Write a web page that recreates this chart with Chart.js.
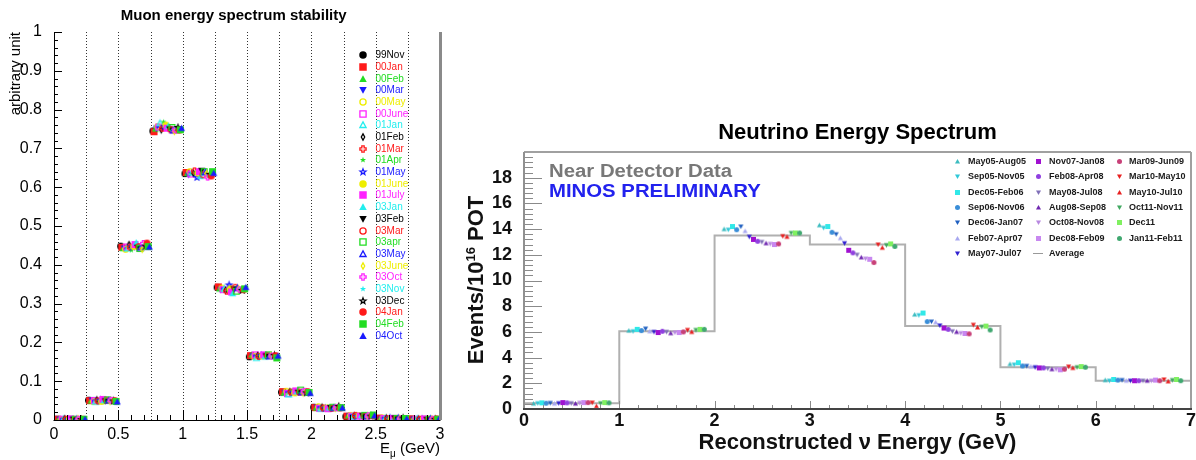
<!DOCTYPE html>
<html><head><meta charset="utf-8">
<script src="https://cdn.jsdelivr.net/npm/chart.js@4.4.1/dist/chart.umd.min.js"></script>
<style>
html,body{margin:0;padding:0;background:#fff;}
body{position:relative;width:1196px;height:460px;overflow:hidden;font-family:"Liberation Sans",Arial,Helvetica,sans-serif;}
canvas.chart{position:absolute;top:0;}
.t{position:absolute;white-space:nowrap;line-height:1;}
.rot{transform-origin:0 0;transform:rotate(-90deg);}
</style></head><body>
<canvas class="chart" id="muon" width="460" height="460" style="left:0"></canvas>
<canvas class="chart" id="nu" width="736" height="460" style="left:460px"></canvas>

<div class="t" style="left:233.7px;top:6.6px;transform:translateX(-50%);font-weight:bold;font-size:15px;color:#000">Muon energy spectrum stability</div>
<div class="t rot" style="left:7px;top:232px;width:200px;text-align:right;font-size:15px;color:#000">arbitrary unit</div>
<div class="t" style="left:440px;top:440px;transform:translateX(-100%);font-size:15px;color:#000">E<span style="font-size:10px;position:relative;top:4px">μ</span> (GeV)</div>

<div class="t" style="left:857.5px;top:120.7px;transform:translateX(-50%);font-weight:bold;font-size:22px;color:#000">Neutrino Energy Spectrum</div>
<div class="t rot" style="left:465.4px;top:430px;width:300px;text-align:center;font-weight:bold;font-size:22px;color:#111">Events/10<span style="font-size:13px;position:relative;top:-8px">16</span> POT</div>
<div class="t" style="left:857.5px;top:431px;transform:translateX(-50%);font-weight:bold;font-size:22px;color:#111">Reconstructed ν Energy (GeV)</div>
<div class="t" style="left:549px;top:161.5px;transform-origin:0 0;transform:scaleX(1.13);font-weight:bold;font-size:18px;color:#787878">Near Detector Data</div>
<div class="t" style="left:549px;top:181.8px;transform-origin:0 0;transform:scaleX(1.13);font-weight:bold;font-size:18px;color:#2222ee">MINOS PRELIMINARY</div>

<div id="legends"></div>
<script>
// ---------------- Muon chart data ----------------
const muonSeries = ['99Nov','00Jan','00Feb','00Mar','00May','00June','01Jan','01Feb','01Mar','01Apr','01May','01June','01July','03Jan','03Feb','03Mar','03apr','03May','03June','03Oct','03Nov','03Dec','04Jan','04Feb','04Oct'];
const muonBinStarts = [0,0.25,0.5,0.75,1,1.25,1.5,1.75,2,2.25,2.5,2.75];
const muonXTicks = [0,0.5,1,1.5,2,2.5,3];
const muonYTicks = [0,0.1,0.2,0.3,0.4,0.5,0.6,0.7,0.8,0.9,1];
const muonBin0  = [0.002,0.002,0.003,0.002,0.001,0.002,0.002,0.003,0.002,0.002,0.001,0.002,0.003,0.002,0.002,0.001,0.002,0.002,0.003,0.002,0.002,0.001,0.002,0.002,0.002];
const muonBin1  = [0.051,0.050,0.049,0.051,0.048,0.050,0.047,0.052,0.049,0.050,0.051,0.048,0.053,0.050,0.049,0.051,0.052,0.050,0.048,0.051,0.050,0.049,0.050,0.048,0.047];
const muonBin2  = [0.448,0.445,0.442,0.443,0.440,0.446,0.442,0.452,0.445,0.438,0.446,0.447,0.452,0.457,0.445,0.447,0.442,0.444,0.440,0.455,0.452,0.448,0.456,0.447,0.446];
const muonBin3  = [0.745,0.743,0.750,0.752,0.756,0.755,0.765,0.748,0.752,0.768,0.756,0.760,0.752,0.758,0.750,0.748,0.754,0.746,0.744,0.748,0.752,0.754,0.747,0.748,0.752];
const muonBin4  = [0.635,0.638,0.636,0.632,0.640,0.634,0.638,0.636,0.642,0.637,0.625,0.636,0.640,0.628,0.643,0.632,0.640,0.638,0.635,0.626,0.631,0.633,0.629,0.640,0.636];
const muonBin5  = [0.342,0.343,0.338,0.336,0.340,0.336,0.338,0.334,0.332,0.336,0.348,0.338,0.330,0.326,0.338,0.342,0.332,0.340,0.338,0.336,0.338,0.334,0.336,0.338,0.342];
const muonBin6  = [0.163,0.166,0.168,0.165,0.164,0.168,0.160,0.166,0.164,0.167,0.166,0.165,0.168,0.163,0.165,0.166,0.168,0.164,0.166,0.165,0.163,0.167,0.166,0.160,0.165];
const muonBin7  = [0.072,0.073,0.070,0.071,0.074,0.068,0.066,0.073,0.072,0.075,0.071,0.070,0.075,0.073,0.071,0.072,0.077,0.071,0.070,0.074,0.072,0.070,0.073,0.071,0.069];
const muonBin8  = [0.033,0.032,0.031,0.032,0.034,0.030,0.029,0.033,0.031,0.032,0.030,0.031,0.029,0.031,0.032,0.030,0.033,0.031,0.030,0.032,0.031,0.035,0.031,0.032,0.031];
const muonBin9  = [0.009,0.010,0.011,0.010,0.012,0.010,0.009,0.011,0.012,0.010,0.009,0.011,0.010,0.012,0.011,0.010,0.012,0.009,0.010,0.011,0.012,0.010,0.011,0.013,0.011];
const muonBin10 = [0.004,0.005,0.004,0.003,0.005,0.004,0.004,0.005,0.003,0.004,0.005,0.004,0.004,0.003,0.005,0.004,0.004,0.005,0.004,0.003,0.004,0.005,0.004,0.004,0.003];
const muonBin11 = [0.002,0.003,0.002,0.002,0.001,0.002,0.003,0.002,0.002,0.001,0.002,0.002,0.003,0.002,0.001,0.002,0.002,0.003,0.002,0.002,0.001,0.002,0.003,0.002,0.002];
const muonBins = [muonBin0,muonBin1,muonBin2,muonBin3,muonBin4,muonBin5,muonBin6,muonBin7,muonBin8,muonBin9,muonBin10,muonBin11];

// ---------------- Neutrino chart data ----------------
const nuSeries = ['May05-Aug05','Sep05-Nov05','Dec05-Feb06','Sep06-Nov06','Dec06-Jan07','Feb07-Apr07','May07-Jul07','Nov07-Jan08','Feb08-Apr08','May08-Jul08','Aug08-Sep08','Oct08-Nov08','Dec08-Feb09','Mar09-Jun09','Mar10-May10','May10-Jul10','Oct11-Nov11','Dec11','Jan11-Feb11'];
const nuBinStarts = [0,1,2,3,4,5,6];
const nuXTicks = [0,1,2,3,4,5,6,7];
const nuYTicks = [0,2,4,6,8,10,12,14,16,18];
const nuBin0 = [0.42,0.45,0.48,0.45,0.47,0.42,0.45,0.50,0.48,0.45,0.42,0.48,0.50,0.50,0.50,0.22,0.45,0.50,0.48];
const nuBin1 = [6.10,6.05,6.20,6.10,6.25,6.05,6.00,5.95,6.05,6.00,5.90,5.95,5.95,6.00,6.15,6.00,6.15,6.20,6.20];
const nuBin2 = [14.00,13.95,14.20,13.95,14.20,13.85,13.40,13.20,13.05,13.00,12.90,12.85,12.80,12.85,13.45,13.40,13.70,13.70,13.70];
const nuBin3 = [14.30,14.10,14.20,13.75,13.60,13.30,12.90,12.35,12.15,12.00,11.80,11.70,11.65,11.40,12.80,12.55,12.75,12.85,12.65];
const nuBin4 = [7.35,7.30,7.47,6.80,6.80,6.75,6.50,6.30,6.20,6.05,6.00,5.90,5.88,5.85,6.55,6.35,6.40,6.45,6.15];
const nuBin5 = [3.50,3.45,3.60,3.35,3.35,3.30,3.25,3.20,3.20,3.15,3.10,3.10,3.05,3.10,3.30,3.20,3.25,3.30,3.25];
const nuBin6 = [2.25,2.20,2.30,2.25,2.25,2.20,2.20,2.20,2.20,2.20,2.20,2.20,2.25,2.20,2.30,2.15,2.25,2.30,2.20];
const nuBins = [nuBin0,nuBin1,nuBin2,nuBin3,nuBin4,nuBin5,nuBin6];
const nuAverage = [0.44,6.05,13.5,12.8,6.46,3.25,2.2];

// ---------------- Styles ----------------
const rootColors = ['#000000','#ff1a1a','#22dd22','#1a1aff','#eeee00','#ff22ff','#22eeee'];
const muonColors = muonSeries.map((_, i) => rootColors[i % 7]);
const muonShapes = ['circle','square','tup','tdown','ocircle','osquare','otup','odiamond','ocross','star','ostar','circle','square','tup','tdown','ocircle','osquare','otup','odiamond','ocross','star','ostar','circle','square','tup'];
const nuShapes = ['tup','tdown','square','circle','tdown','tup','tdown','square','circle','tdown','tup','tdown','square','circle','tdown','tup','tdown','square','circle'];
const nuColors = ['#3cbcc0','#30c8d8','#30e8e8','#3a8ed8','#1f5fc0','#a8a8f0','#3020d0','#a010d0','#9040e0','#8070b8','#7028b0','#b888e0','#c888f0','#c84078','#e82020','#e82020','#40a860','#80f060','#40a870'];

function makeMarker(type, color, size, lw) {
  const pad = 2, S = Math.ceil(size + pad * 2);
  const c = document.createElement('canvas'); c.width = S; c.height = S;
  const g = c.getContext('2d');
  const cx = S / 2, cy = S / 2, r = size / 2;
  g.fillStyle = color; g.strokeStyle = color; g.lineWidth = lw;
  const open = type.charAt(0) === 'o';
  const base = open ? type.slice(1) : type;
  const rr = open ? r - lw / 2 : r;
  const poly = pts => { g.beginPath(); pts.forEach((p, k) => k ? g.lineTo(cx + p[0], cy + p[1]) : g.moveTo(cx + p[0], cy + p[1])); g.closePath(); };
  switch (base) {
    case 'circle': g.beginPath(); g.arc(cx, cy, rr, 0, Math.PI * 2); break;
    case 'square': poly([[-rr,-rr],[rr,-rr],[rr,rr],[-rr,rr]]); break;
    case 'tup': poly([[0,-rr],[rr,rr*0.8],[-rr,rr*0.8]]); break;
    case 'tdown': poly([[0,rr],[rr,-rr*0.8],[-rr,-rr*0.8]]); break;
    case 'diamond': poly([[0,-rr],[rr*0.55,0],[0,rr],[-rr*0.55,0]]); break;
    case 'cross': { const a = rr * 0.38; poly([[-a,-rr],[a,-rr],[a,-a],[rr,-a],[rr,a],[a,a],[a,rr],[-a,rr],[-a,a],[-rr,a],[-rr,-a],[-a,-a]]); break; }
    case 'star': { const pts = []; const R = open ? rr : rr * 0.85; for (let k = 0; k < 10; k++) { const ang = -Math.PI / 2 + k * Math.PI / 5; const rad = k % 2 ? R * 0.42 : R; pts.push([rad * Math.cos(ang), rad * Math.sin(ang)]); } poly(pts); break; }
  }
  if (open) g.stroke(); else g.fill();
  return c;
}

const muonMarkers = muonSeries.map((_, i) => makeMarker(muonShapes[i], muonColors[i], 7, 1.3));
const nuMarkers = nuSeries.map((_, i) => makeMarker(nuShapes[i], nuColors[i], 5, 1));

// ---------------- Plugin: frames, inside ticks, dotted lines ----------------
const axisDecor = {
  id: 'axisDecor',
  beforeDatasetsDraw(chart, args, o) {
    if (!o.dotStep) return;
    const { ctx, chartArea: a, scales: { x } } = chart;
    ctx.save();
    ctx.strokeStyle = o.dotColor; ctx.lineWidth = 1; ctx.setLineDash([1, 2]);
    const n = Math.round((x.max - x.min) / o.dotStep);
    for (let k = 1; k < n; k++) {
      const px = Math.round(x.getPixelForValue(x.min + k * o.dotStep)) + 0.5;
      ctx.beginPath(); ctx.moveTo(px, a.top); ctx.lineTo(px, a.bottom); ctx.stroke();
    }
    ctx.restore();
  },
  afterDatasetsDraw(chart, args, o) {
    const { ctx, chartArea: a, scales: { x, y } } = chart;
    ctx.save();
    ctx.strokeStyle = o.tickColor; ctx.lineWidth = 1;
    const isMul = (v, m) => Math.abs(v / m - Math.round(v / m)) < 1e-6;
    let n = Math.round((x.max - x.min) / o.xMinor);
    for (let k = 0; k <= n; k++) {
      const v = x.min + k * o.xMinor;
      const len = isMul(v, o.xMajor) ? o.xMajorLen : o.xMinorLen;
      const px = Math.round(x.getPixelForValue(v)) + 0.5;
      ctx.beginPath(); ctx.moveTo(px, a.bottom); ctx.lineTo(px, a.bottom - len); ctx.stroke();
    }
    n = Math.round((y.max - y.min) / o.yMinor);
    for (let k = 0; k <= n; k++) {
      const v = y.min + k * o.yMinor;
      const len = isMul(v, o.yMajor) ? o.yMajorLen : o.yMinorLen;
      const py = Math.round(y.getPixelForValue(v)) + 0.5;
      ctx.beginPath(); ctx.moveTo(a.left, py); ctx.lineTo(a.left + len, py); ctx.stroke();
    }
    (o.lines || []).forEach(l => {
      ctx.strokeStyle = l.color; ctx.lineWidth = l.w;
      const off = (l.w % 2) ? 0.5 : 0;
      ctx.beginPath();
      if (l.side === 'left') { ctx.moveTo(Math.round(a.left) + off, a.top); ctx.lineTo(Math.round(a.left) + off, a.bottom); }
      if (l.side === 'right') { ctx.moveTo(Math.round(a.right) + off, a.top); ctx.lineTo(Math.round(a.right) + off, a.bottom); }
      if (l.side === 'top') { ctx.moveTo(a.left, Math.round(a.top) + off); ctx.lineTo(a.right, Math.round(a.top) + off); }
      if (l.side === 'bottom') { ctx.moveTo(a.left - l.w / 2, Math.round(a.bottom) + off); ctx.lineTo(a.right + l.w / 2, Math.round(a.bottom) + off); }
      ctx.stroke();
    });
    ctx.restore();
  }
};

// ---------------- Muon chart ----------------
new Chart(document.getElementById('muon'), {
  type: 'scatter',
  data: {
    datasets: muonSeries.map((name, i) => ({
      label: name, order: -i,
      data: muonBins.map((bin, b) => ({ x: muonBinStarts[b] + 0.018 + i * 0.0093, y: bin[i] })),
      pointStyle: muonMarkers[i], pointRadius: 3.5, pointHoverRadius: 3.5,
      backgroundColor: muonColors[i], borderColor: muonColors[i]
    }))
  },
  options: {
    responsive: false, animation: false, events: [],
    layout: { padding: { left: 0, top: 32, right: 20, bottom: 0 } },
    plugins: {
      legend: { display: false }, tooltip: { enabled: false },
      axisDecor: {
        dotStep: 0.25, dotColor: '#333', tickColor: '#000',
        xMinor: 0.1, xMajor: 0.5, xMinorLen: 5, xMajorLen: 10,
        yMinor: 0.02, yMajor: 0.1, yMinorLen: 4, yMajorLen: 8,
        lines: [{ side: 'left', color: '#000', w: 1 }, { side: 'bottom', color: '#000', w: 1 }, { side: 'right', color: '#8a8a8a', w: 3 }]
      }
    },
    scales: {
      x: {
        type: 'linear', min: 0, max: 3,
        grid: { display: false }, border: { display: false },
        afterFit: s => { s.height = 40; },
        afterBuildTicks: s => { s.ticks = muonXTicks.map(v => ({ value: v })); },
        ticks: { padding: -3, color: '#000', font: { size: 16, family: 'Liberation Sans' }, maxRotation: 0, autoSkip: false, callback: v => String(v) }
      },
      y: {
        type: 'linear', min: 0, max: 1,
        grid: { display: false }, border: { display: false },
        afterFit: s => { s.width = 54; },
        afterBuildTicks: s => { s.ticks = muonYTicks.map(v => ({ value: v })); },
        ticks: { padding: 4, color: '#000', font: { size: 16, family: 'Liberation Sans' }, autoSkip: false, callback: v => String(v) }
      }
    }
  },
  plugins: [axisDecor]
});

// ---------------- Neutrino chart ----------------
const nuDatasets = nuSeries.map((name, i) => ({
  label: name, order: -i,
  data: nuBins.map((bin, b) => ({ x: nuBinStarts[b] + 0.1 + i * 0.044, y: bin[i] })),
  pointStyle: nuMarkers[i], pointRadius: 2.5, pointHoverRadius: 2.5,
  backgroundColor: nuColors[i], borderColor: nuColors[i]
}));
nuDatasets.push({
  type: 'line', label: 'Average', order: 100,
  data: nuAverage.map((v, b) => ({ x: nuBinStarts[b], y: v })).concat([{ x: nuXTicks[nuXTicks.length - 1], y: nuAverage[nuAverage.length - 1] }]),
  stepped: 'before', borderColor: '#b0b0b0', borderWidth: 2, pointRadius: 0, fill: false
});
new Chart(document.getElementById('nu'), {
  type: 'scatter',
  data: { datasets: nuDatasets },
  options: {
    responsive: false, animation: false, events: [],
    layout: { padding: { left: 0, top: 152, right: 5, bottom: 0 } },
    plugins: {
      legend: { display: false }, tooltip: { enabled: false },
      axisDecor: {
        tickColor: '#8a8a8a',
        xMinor: 0.2, xMajor: 1, xMinorLen: 4, xMajorLen: 8,
        yMinor: 0.4, yMajor: 2, yMinorLen: 9, yMajorLen: 18,
        lines: [{ side: 'top', color: '#a0a0a0', w: 2 }, { side: 'left', color: '#909090', w: 2 }, { side: 'right', color: '#a0a0a0', w: 2 }, { side: 'bottom', color: '#444', w: 2 }]
      }
    },
    scales: {
      x: {
        type: 'linear', min: 0, max: 7,
        grid: { display: false }, border: { display: false },
        afterFit: s => { s.height = 51; },
        afterBuildTicks: s => { s.ticks = nuXTicks.map(v => ({ value: v })); },
        ticks: { padding: -7, color: '#111', font: { size: 18, weight: 'bold', family: 'Liberation Sans' }, maxRotation: 0, autoSkip: false, callback: v => String(v) }
      },
      y: {
        type: 'linear', min: 0, max: 20,
        grid: { display: false }, border: { display: false },
        afterFit: s => { s.width = 64; },
        afterBuildTicks: s => { s.ticks = nuYTicks.map(v => ({ value: v })); },
        ticks: { padding: 4, color: '#111', font: { size: 18, weight: 'bold', family: 'Liberation Sans' }, autoSkip: false, callback: v => String(v) }
      }
    }
  },
  plugins: [axisDecor]
});

// ---------------- Legends (HTML text) ----------------
const legendsEl = document.getElementById('legends');
function addMarker(canvas, cx, cy) {
  canvas.style.position = 'absolute';
  canvas.style.left = (cx - canvas.width / 2) + 'px';
  canvas.style.top = (cy - canvas.height / 2) + 'px';
  legendsEl.appendChild(canvas);
}
function addText(text, left, cy, size, color, bold) {
  const d = document.createElement('div');
  d.className = 't';
  d.textContent = text;
  d.style.left = left + 'px';
  d.style.top = (cy - size * 0.5) + 'px';
  d.style.fontSize = size + 'px';
  d.style.color = color;
  if (bold) d.style.fontWeight = 'bold';
  legendsEl.appendChild(d);
}
muonSeries.forEach((name, i) => {
  const cy = 55.3 + i * 11.68;
  addMarker(makeMarker(muonShapes[i], muonColors[i], 7.5, 1.3), 363, cy);
  addText(name, 375.5, cy, 10, muonColors[i], false);
});
const nuLegendCols = [{ mx: 957.7, tx: 968 }, { mx: 1038.5, tx: 1049 }, { mx: 1119, tx: 1129 }];
const nuLegendColStart = [0, 7, 13];
nuSeries.forEach((name, i) => {
  const col = i < 7 ? 0 : (i < 13 ? 1 : 2);
  const row = i - nuLegendColStart[col];
  const cy = 161.5 + row * 15.3;
  addMarker(makeMarker(nuShapes[i], nuColors[i], 5, 1), nuLegendCols[col].mx, cy);
  addText(name, nuLegendCols[col].tx, cy, 9, '#1a1a1a', true);
});
(function () {
  const cy = 161.5 + 6 * 15.3;
  const line = document.createElement('div');
  line.style.cssText = 'position:absolute;left:1033px;top:' + (cy - 0.5) + 'px;width:10px;height:1px;background:#999';
  legendsEl.appendChild(line);
  addText('Average', 1049, cy, 9, '#1a1a1a', true);
})();
</script></body></html>
